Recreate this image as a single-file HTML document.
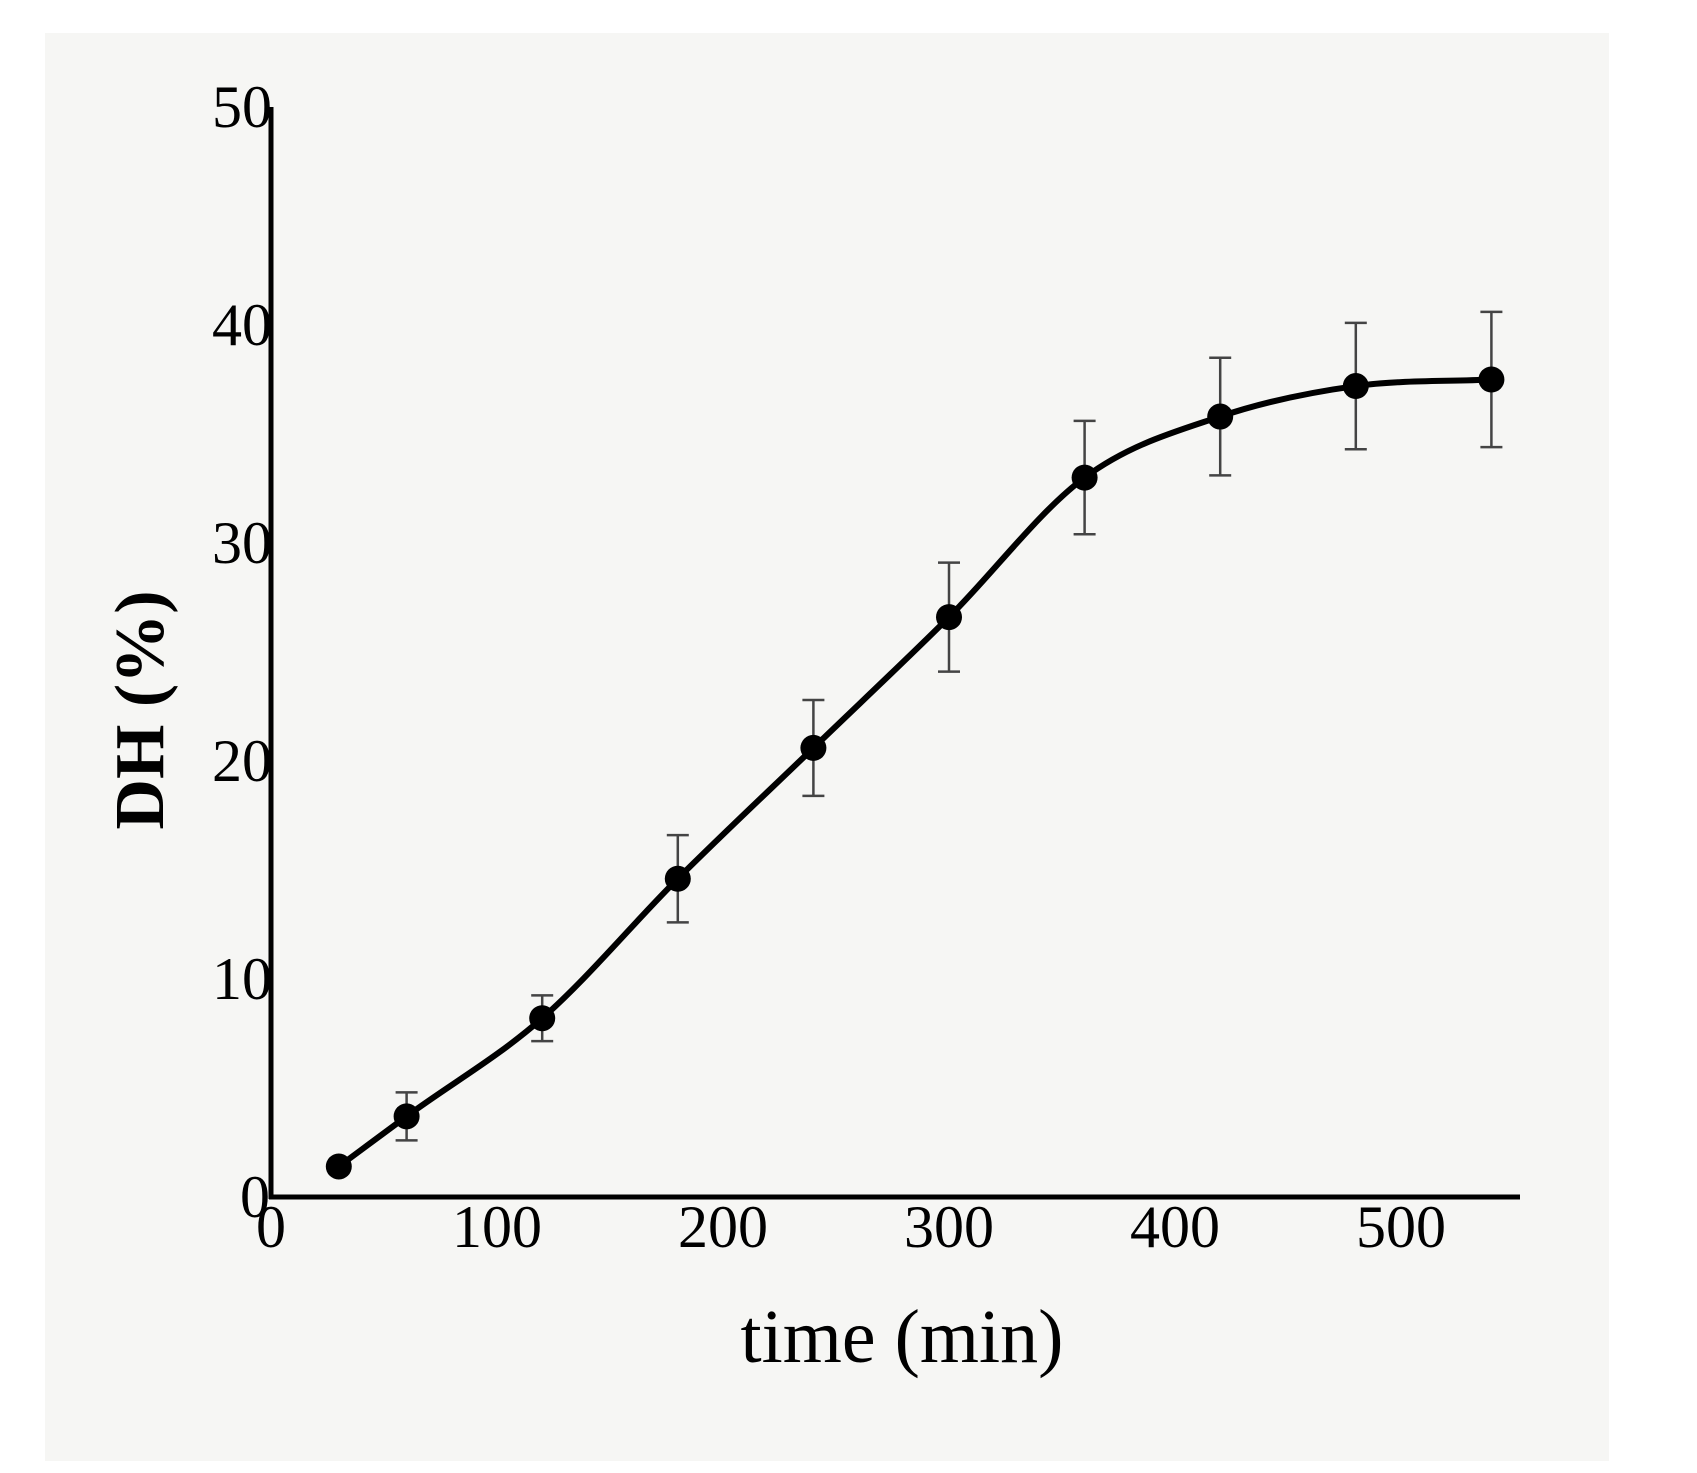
<!DOCTYPE html>
<html><head><meta charset="utf-8"><style>
html,body{margin:0;padding:0;background:#fff;}
svg{display:block;font-family:"Liberation Serif",serif;}
</style></head><body>
<svg id="chart" width="1697" height="1473" viewBox="0 0 1697 1473">
<rect x="45" y="33" width="1575" height="1430" fill="#f6f6f4"/>
<rect x="1609" y="0" width="88" height="1473" fill="#fff"/>
<rect x="0" y="1461" width="1697" height="12" fill="#fff"/>
<g id="marks"></g>
<line x1="271" y1="107" x2="271" y2="1199" stroke="#000" stroke-width="5"/>
<line x1="269" y1="1197" x2="1520" y2="1197" stroke="#000" stroke-width="5"/>
<text x="147" y="710" font-size="70" font-weight="bold" text-anchor="middle" dominant-baseline="middle" transform="rotate(-90 147 710)">DH (%)</text>
<text x="902" y="1362" font-size="76" text-anchor="middle">time (min)</text>
</svg>
<script>
const times = [30, 60, 120, 180, 240, 300, 360, 420, 480, 540];
const dhValues = [1.4, 3.7, 8.2, 14.6, 20.6, 26.6, 33.0, 35.8, 37.2, 37.5];
const dhErrors = [0, 1.1, 1.05, 2.0, 2.2, 2.5, 2.6, 2.7, 2.9, 3.1];
const xTicks = [0, 100, 200, 300, 400, 500];
const yTicks = [0, 10, 20, 30, 40, 50];

const NS = "http://www.w3.org/2000/svg";
const xs = v => 271 + v * 2.26;
const ys = v => 1197 - v * 21.8;
const svg = document.getElementById('chart');
const g = document.getElementById('marks');
function mk(tag, attrs, parent) {
  const e = document.createElementNS(NS, tag);
  for (const k in attrs) e.setAttribute(k, attrs[k]);
  (parent || g).appendChild(e);
  return e;
}
xTicks.forEach(t => {
  const e = mk('text', {x: xs(t), y: 1247, 'font-size': 60, 'text-anchor': 'middle'}, svg);
  e.textContent = t;
  
  
});
yTicks.forEach(t => {
  const e = mk('text', {x: t === 0 ? 270 : 272, y: ys(t) + 20, 'font-size': 60, 'text-anchor': 'end'}, svg);
  e.textContent = t;
  
  
});
// smooth curve (monotone cubic)
const P = times.map((t, i) => [xs(t), ys(dhValues[i])]);
const n = P.length, m = [];
const dk = [];
for (let i = 0; i < n - 1; i++) dk.push((P[i + 1][1] - P[i][1]) / (P[i + 1][0] - P[i][0]));
for (let i = 0; i < n; i++) {
  if (i === 0) m.push(dk[0]);
  else if (i === n - 1) m.push(dk[n - 2]);
  else {
    const h0 = P[i][0] - P[i - 1][0], h1 = P[i + 1][0] - P[i][0];
    m.push((dk[i - 1] * h1 + dk[i] * h0) / (h0 + h1));
  }
}
let d = `M${P[0][0]},${P[0][1]}`;
for (let i = 0; i < n - 1; i++) {
  const h = (P[i + 1][0] - P[i][0]) / 3;
  d += ` C${P[i][0] + h},${P[i][1] + m[i] * h} ${P[i + 1][0] - h},${P[i + 1][1] - m[i + 1] * h} ${P[i + 1][0]},${P[i + 1][1]}`;
}
const line = mk('path', {d: d, fill: 'none', stroke: '#000', 'stroke-width': 6});


times.forEach((t, i) => {
  const x = xs(t), v = dhValues[i], e = dhErrors[i];
  if (e > 0) {
    const eb = mk('path', {d: `M${x},${ys(v + e)}V${ys(v - e)}M${x - 11},${ys(v + e)}H${x + 11}M${x - 11},${ys(v - e)}H${x + 11}`, stroke: '#444', 'stroke-width': 2.5, fill: 'none'});
    
    
  }
  const c = mk('circle', {cx: x, cy: ys(v), r: 13, fill: '#000'});
  
  
});
</script>
</body></html>
